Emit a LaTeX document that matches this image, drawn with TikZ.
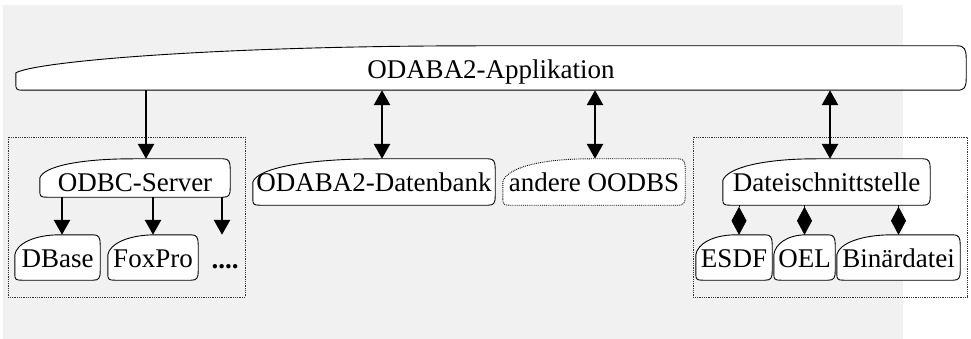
\documentclass[tikz,border=0pt]{standalone}
\usepackage{fontspec}
\setmainfont{Liberation Serif}
\usetikzlibrary{arrows.meta,calc}
\pgfdeclarelayer{bg}
\pgfsetlayers{bg,main}
\definecolor{bgc}{RGB}{241,241,241}
\tikzset{
  tb/.style={inner sep=0pt, text depth=0pt, font=\fontsize{27}{31}\selectfont},
  tabsty/.style={draw=black, fill=white, line width=0.9pt},
  arr/.style={line width=2.8pt, -{Triangle[width=16pt,length=15pt]}},
  darr/.style={line width=2.8pt, {Triangle[width=16pt,length=15pt]}-{Triangle[width=16pt,length=15pt]}},
  dia/.style={line width=0.6pt, -{Diamond[width=15pt,length=28pt]}},
  grp/.style={draw=black!80, densely dotted, line width=0.8pt}
}
% #1 style, #2 node name, #3 curve end fraction (of width), #4 left edge top (fraction of height from top),
% #5 first control point height (fraction of height from top), #6 corner radius
\newcommand\tabshape[6][]{%
  \path[tabsty,#1] let \p1=(#2.north west), \p2=(#2.south east),
      \n1={\x2-\x1}, \n2={\y1-\y2}, \n3={#3*(\x2-\x1)} in
    (\x1, \y2+6pt) -- (\x1, {\y1-#4*\n2})
    .. controls ({\x1+0.04*\n3}, {\y1-#5*\n2}) and ({\x1+0.42*\n3}, \y1) .. ({\x1+\n3}, \y1)
    -- (\x2-#6, \y1)
    .. controls (\x2-0.2*#6, \y1) and (\x2, \y1-0.4*#6) .. (\x2, \y1-1.4*#6)
    -- (\x2, \y2+1.3*#6)
    .. controls (\x2, \y2+0.3*#6) and (\x2-0.2*#6, \y2) .. (\x2-#6, \y2)
    -- (\x1+7pt, \y2)
    .. controls (\x1+1pt, \y2) and (\x1, \y2+1pt) .. cycle;}
\begin{document}
\begin{tikzpicture}[x=1pt,y=-1pt]
\useasboundingbox (0,0) rectangle (971,339);
% nodes
\node[tb, minimum width=950pt, minimum height=44pt, text height=22pt] (app) at (491,68) {ODABA2-Applikation};
\node[tb, minimum width=190pt, minimum height=38pt, text height=28pt] (odbc) at (135,178) {ODBC-Server};
\node[tb, minimum width=85pt, minimum height=45pt, text height=19pt] (dbase) at (57.5,257.5) {DBase};
\node[tb, minimum width=90pt, minimum height=45pt, text height=19pt] (foxpro) at (153,257.5) {FoxPro};
\node[tb, minimum width=30pt, minimum height=44pt, text height=22pt, font=\fontsize{27}{31}\selectfont\bfseries] (dots) at (225,257) {....};
\node[tb, minimum width=242pt, minimum height=46pt, text height=18pt] (datenbank) at (374,182) {ODABA2-Datenbank};
\node[tb, minimum width=182pt, minimum height=46pt, text height=18pt] (oodbs) at (594,182) {andere OODBS};
\node[tb, minimum width=207pt, minimum height=46pt, text height=18pt] (datei) at (826.5,182) {Dateischnittstelle};
\node[tb, minimum width=76pt, minimum height=45pt, text height=19pt] (esdf) at (734,257.5) {ESDF};
\node[tb, minimum width=61pt, minimum height=45pt, text height=19pt] (oel) at (804.5,257.5) {OEL};
\node[tb, minimum width=123pt, minimum height=45pt, text height=19pt] (bin) at (898.5,257.5) {Binärdatei};
% background and shapes
\begin{pgfonlayer}{bg}
\fill[bgc] (3,5) rectangle (903,339);
\draw[grp] (8,137) rectangle (245,297);
\draw[grp] (693,137) rectangle (967,297);
\tabshape{app}{0.49}{0.61}{0.36}{9pt}
\tabshape{odbc}{0.49}{0.5}{0.2}{7pt}
\tabshape{dbase}{0.53}{0.44}{0.2}{7pt}
\tabshape{foxpro}{0.53}{0.44}{0.2}{7pt}
\tabshape{datenbank}{0.52}{0.5}{0.2}{7pt}
\tabshape[densely dotted]{oodbs}{0.48}{0.5}{0.2}{7pt}
\tabshape{datei}{0.45}{0.47}{0.2}{7pt}
\tabshape{esdf}{0.53}{0.44}{0.2}{7pt}
\tabshape{oel}{0.53}{0.44}{0.2}{7pt}
\tabshape{bin}{0.45}{0.44}{0.2}{7pt}
\end{pgfonlayer}
% connectors
\draw[arr] ([xshift=11pt]odbc.north |- app.south) -- ([xshift=11pt]odbc.north);
\draw[darr] ([xshift=8pt]datenbank.north |- app.south) -- ([xshift=8pt]datenbank.north);
\draw[darr] ([xshift=1pt]oodbs.north |- app.south) -- ([xshift=1pt]oodbs.north);
\draw[darr] ([xshift=3.5pt]datei.north |- app.south) -- ([xshift=3.5pt]datei.north);
\draw[arr] ([xshift=4.5pt]dbase.north |- odbc.south) -- ([xshift=4.5pt]dbase.north);
\draw[arr] (foxpro.north |- odbc.south) -- (foxpro.north);
\draw[arr] ([xshift=-3pt]dots.north |- odbc.south) -- ([xshift=-3pt]dots.north);
\draw[dia] ([xshift=5pt]esdf.north |- datei.south) -- ([xshift=5pt]esdf.north);
\draw[dia] (oel.north |- datei.south) -- (oel.north);
\draw[dia] (bin.north |- datei.south) -- (bin.north);
\end{tikzpicture}
\end{document}
